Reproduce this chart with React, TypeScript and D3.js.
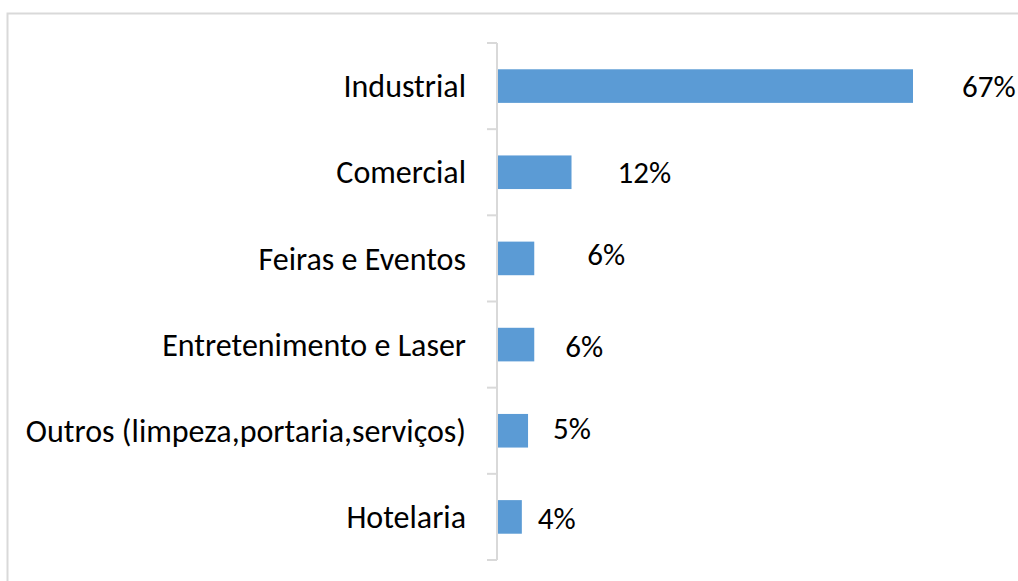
import React, { useEffect, useRef } from "react";
import * as d3 from "d3";

const categories = [
  "Industrial",
  "Comercial",
  "Feiras e Eventos",
  "Entretenimento e Laser",
  "Outros (limpeza,portaria,serviços)",
  "Hotelaria",
];
const shares = [0.67, 0.12, 0.06, 0.06, 0.05, 0.04];
const valueLabels = ["67%", "12%", "6%", "6%", "5%", "4%"];
// hand-placed data label nudges (as in the original sheet)
const labelDx = [49, 46, 53, 31, 25, 16];
const labelDy = [0, 0, -4, 2, -2.5, 1];

export default function App() {
  const ref = useRef<SVGSVGElement>(null);

  useEffect(() => {
    const width = 1018,
      height = 581;
    const svg = d3.select(ref.current);
    svg.selectAll("*").remove();
    svg.attr("width", width).attr("height", height);

    const font = "Carlito, Calibri, Lato, sans-serif";

    // chart border
    svg
      .append("rect")
      .attr("x", 7.5)
      .attr("y", 13.5)
      .attr("width", 1100)
      .attr("height", 700)
      .attr("fill", "#fff")
      .attr("stroke", "#d9d9d9")
      .attr("stroke-width", 2);

    const x = d3.scaleLinear().domain([0, 0.67]).range([497, 913]);
    const y = d3
      .scaleBand<string>()
      .domain(categories)
      .range([43, 560])
      .paddingInner(0.61)
      .paddingOuter(0.305);

    const step = y.step();

    // axis line and ticks between categories
    const axis = svg.append("g").attr("stroke", "#d9d9d9").attr("stroke-width", 2);
    axis
      .append("line")
      .attr("x1", x(0))
      .attr("x2", x(0))
      .attr("y1", 43)
      .attr("y2", 560);
    const tickYs = d3.range(categories.length + 1).map((i) => 43 + i * step);
    axis
      .selectAll("line.tick")
      .data(tickYs)
      .enter()
      .append("line")
      .attr("class", "tick")
      .attr("x1", x(0) - 10)
      .attr("x2", x(0))
      .attr("y1", (d) => d)
      .attr("y2", (d) => d);

    const data = categories.map((c, i) => ({
      c,
      v: shares[i],
      label: valueLabels[i],
      dx: labelDx[i],
      dy: labelDy[i],
    }));

    svg
      .append("g")
      .selectAll("rect")
      .data(data)
      .enter()
      .append("rect")
      .attr("x", x(0) + 1)
      .attr("y", (d) => y(d.c)!)
      .attr("width", (d) => x(d.v) - x(0) - 1)
      .attr("height", y.bandwidth())
      .attr("fill", "#5b9bd5");

    svg
      .append("g")
      .selectAll("text")
      .data(data)
      .enter()
      .append("text")
      .attr("x", x(0) - 31)
      .attr("y", (d) => y(d.c)! + y.bandwidth() / 2)
      .attr("dy", "0.35em")
      .attr("text-anchor", "end")
      .style("font-family", font)
      .style("font-size", "32px")
      .attr("fill", "#000")
      .text((d) => d.c);

    svg
      .append("g")
      .selectAll("text")
      .data(data)
      .enter()
      .append("text")
      .attr("x", (d) => x(d.v) + d.dx)
      .attr("y", (d) => y(d.c)! + y.bandwidth() / 2 + d.dy)
      .attr("dy", "0.35em")
      .style("font-family", font)
      .style("font-size", "31px")
      .attr("fill", "#000")
      .text((d) => d.label);
  }, []);

  return (
    <svg
      ref={ref}
      style={{ position: "absolute", left: 0, top: 0, display: "block" }}
    ></svg>
  );
}
